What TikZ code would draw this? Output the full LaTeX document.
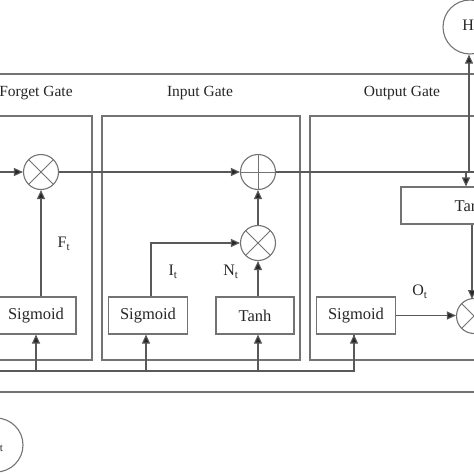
\documentclass[tikz,border=0pt]{standalone}
\usepackage{fontspec}
\setmainfont{Liberation Serif}
\usetikzlibrary{arrows.meta}
\newcommand{\sbt}{\textsubscript{t}}
\begin{document}
\begin{tikzpicture}[x=1pt,y=-1pt,
  ln/.style={draw=black!65, line width=1.1pt},
  arr/.style={ln, -{Triangle[length=9pt,width=8pt,fill=black!85]}},
  gatebox/.style={ln, draw=black!55},
  fnbox/.style={ln, draw=black!55, rectangle, fill=white, minimum height=37pt, inner sep=0pt, font=\fontsize{16.5}{18}\selectfont, text=black!85},
  op/.style={circle, draw=black!55, line width=1.1pt, fill=white, minimum size=35pt, inner sep=0pt},
  mul/.style={op, path picture={\draw[black!55, line width=1pt] (path picture bounding box.north west) -- (path picture bounding box.south east) (path picture bounding box.north east) -- (path picture bounding box.south west);}},
  add/.style={op, path picture={\draw[black!55, line width=1pt] (path picture bounding box.north) -- (path picture bounding box.south) (path picture bounding box.east) -- (path picture bounding box.west);}},
  io/.style={circle, draw=black!55, line width=1.1pt, minimum size=54pt, inner sep=0pt, font=\fontsize{16}{18}\selectfont, text=black!85},
  gl/.style={font=\fontsize{15.5}{17}\selectfont, text=black!85},
  lab/.style={font=\fontsize{16}{18}\selectfont, text=black!85}
]
\useasboundingbox (0,0) rectangle (474,474);
% boxes
\draw[gatebox] (-10,74) rectangle (580,392);
\draw[gatebox] (-10,116) rectangle (92,360);
\draw[gatebox] (102,116) rectangle (300,360);
\draw[gatebox] (310,116) rectangle (580,360);
\node[gl] (lf) at (36,93) {Forget Gate};
\node[gl] (li) at (200,93) {Input Gate};
\node[gl] (lo) at (402,93) {Output Gate};
% ops
\node[mul] (fm) at (41,172) {};
\node[add] (pl) at (258,172) {};
\node[mul] (im) at (258,243) {};
\node[mul] (om) at (474,316) {};
% function boxes
\node[fnbox, minimum width=80pt] (fs) at (36,315.5) {Sigmoid};
\node[fnbox, minimum width=79pt] (is) at (148,315.5) {Sigmoid};
\node[fnbox, minimum width=78pt] (tn) at (255,315.5) {Tanh};
\node[fnbox, minimum width=79pt] (os) at (356,315.5) {Sigmoid};
\node[fnbox, minimum width=140pt] (to) at (471,205.5) {Tanh};
% io circles
\node[io] (h) at (470,27) {H\sbt};
\node[io] (x) at (-4,445) {X\sbt};
% coordinates
\coordinate (cin) at (-10,172);
\coordinate (bus) at (-10,371);
\coordinate (cr) at (480,172);
\coordinate (hv) at (469,172);
\coordinate (tv) at (466,172);
% cell line
\draw[arr] (cin) -- (fm.west);
\draw[arr] (fm.east) -- (pl.west);
\draw[ln] (pl.east) -- (cr);
\draw[arr] (hv) -- (hv |- h.south);
\draw[arr] (tv) -- (tv |- to.north);
% forget
\draw[arr] (fm |- fs.north) -- (fm.south);
\node[lab] (ft) at (64,244) {F\sbt};
% input
\draw[arr] ([xshift=3pt]is.north) |- (im.west);
\node[lab] (it) at (173,272) {I\sbt};
\draw[arr] (im |- tn.north) -- (im.south);
\node[lab] (nt) at (231,272) {N\sbt};
\draw[arr] (im.north) -- (pl.south);
% output
\draw[arr] (os.east) -- (os.east -| om.west);
\node[lab] (ot) at (420,292) {O\sbt};
\draw[arr] (to.south -| 472,0) -- (472,299);
% bus
\draw[ln] (bus) -| ([xshift=-2pt]os.south);
\draw[arr] (fs.south |- bus) -- (fs.south);
\draw[arr] ([xshift=-2pt]is.south |- bus) -- ([xshift=-2pt]is.south);
\draw[arr] (im |- bus) -- (im |- tn.south);
\draw[arr] ([xshift=-2pt]os.south |- bus) -- ([xshift=-2pt]os.south);
\end{tikzpicture}
\end{document}
